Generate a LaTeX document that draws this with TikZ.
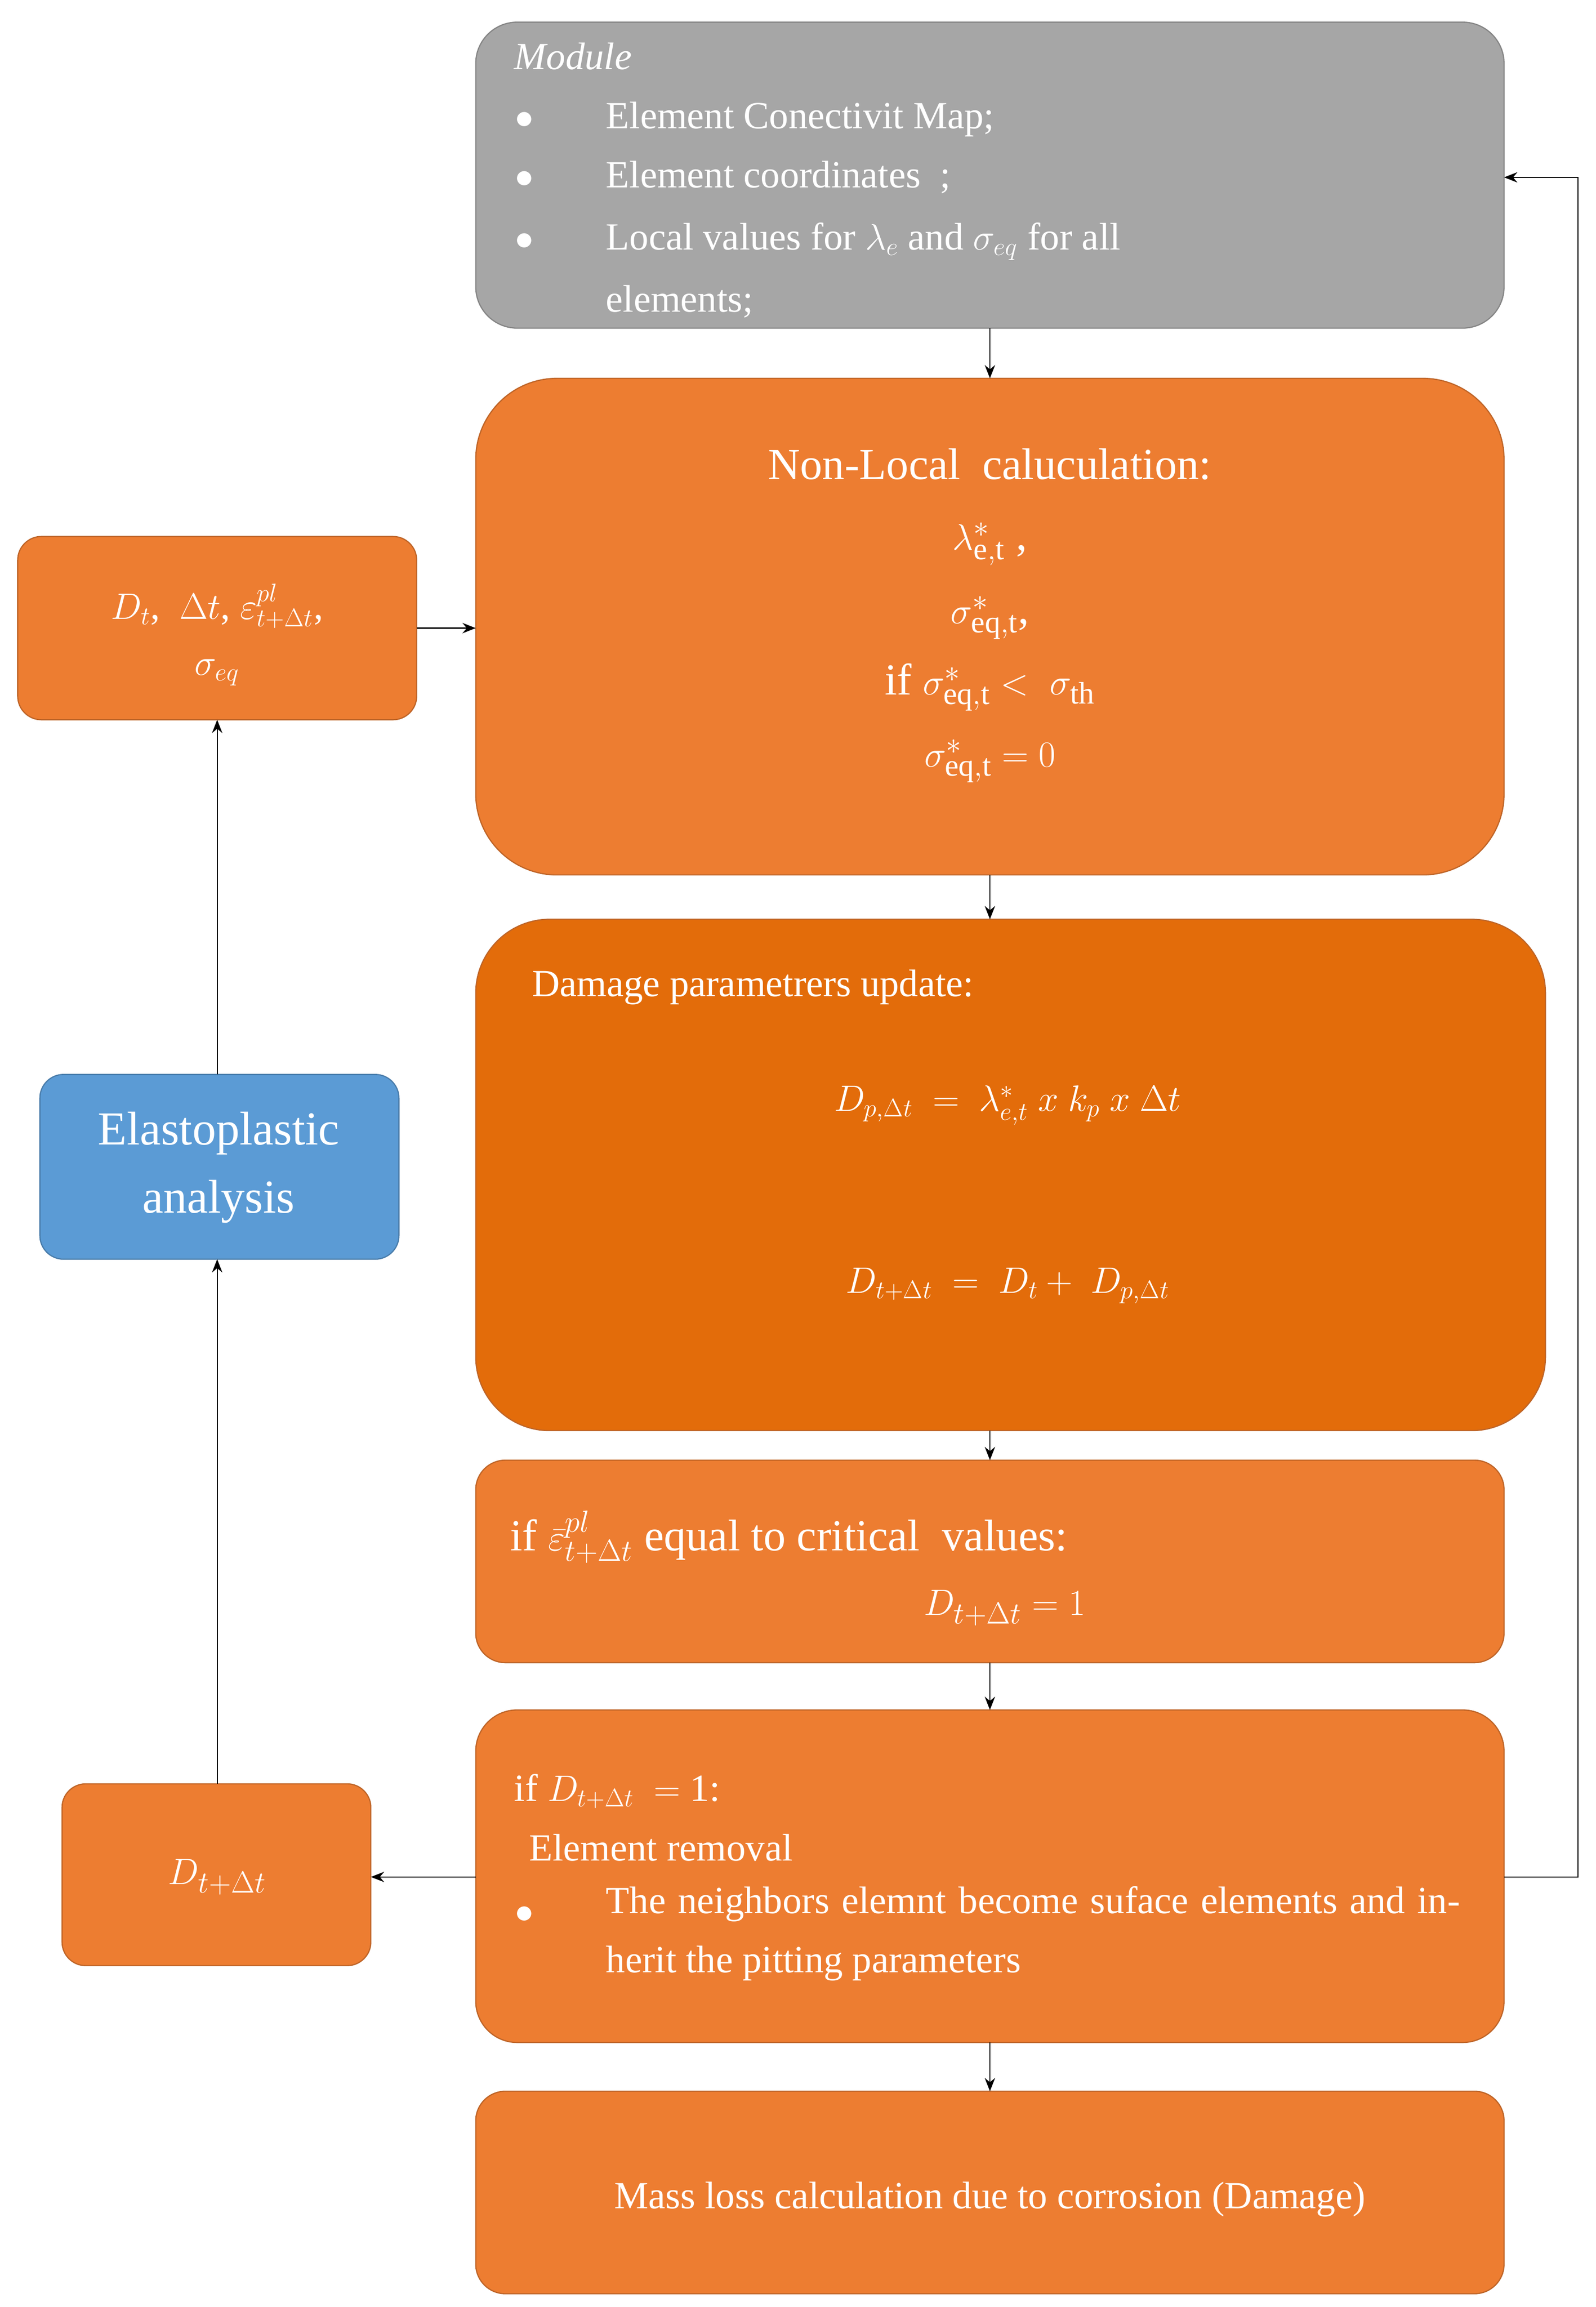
\documentclass[tikz,border=0pt]{standalone}
\usepackage{fontspec}
\setmainfont{Liberation Serif}
\usetikzlibrary{arrows.meta}
\definecolor{og}{HTML}{ED7D31}
\definecolor{dog}{HTML}{E36C0A}
\definecolor{gr}{HTML}{A6A6A6}
\definecolor{bl}{HTML}{5B9BD5}
\begin{document}
\begin{tikzpicture}[x=1pt,y=-1pt,
 box/.style={draw=og!80!black,line width=0.8pt},
 txt/.style={text=white,font=\fontsize{26}{40}\selectfont,inner sep=0pt},
 arr/.style={-{Stealth[length=9pt,width=7pt]},line width=0.7pt}]
\useasboundingbox (0,0) rectangle (1080,1561);
% boxes
\filldraw[fill=gr,draw=gr!80!black,line width=0.8pt,rounded corners=28pt] (322,15) rectangle (1018,222);
\node (mod) at (670,118) {}; 
\coordinate (modt) at (670,222);
\coordinate (modr) at (1018,120);
\filldraw[box,fill=og,rounded corners=55pt] (322,256) rectangle (1018,592);
\coordinate (nlt) at (670,256); \coordinate (nlb) at (670,592); \coordinate (nll) at (322,425);
\filldraw[box,fill=dog,rounded corners=50pt] (322,622) rectangle (1046,968);
\coordinate (dmt) at (670,622); \coordinate (dmb) at (670,968);
\filldraw[box,fill=og,rounded corners=20pt] (322,988) rectangle (1018,1125);
\coordinate (crt) at (670,988); \coordinate (crb) at (670,1125);
\filldraw[box,fill=og,rounded corners=28pt] (322,1157) rectangle (1018,1382);
\coordinate (rmt) at (670,1157); \coordinate (rmb) at (670,1382);
\coordinate (rml) at (322,1270); \coordinate (rmr) at (1018,1270);
\filldraw[box,fill=og,rounded corners=20pt] (322,1415) rectangle (1018,1552);
\coordinate (mlt) at (670,1415);
\filldraw[box,fill=og,rounded corners=16pt] (12,363) rectangle (282,487);
\coordinate (lbr) at (282,425); \coordinate (lbb) at (147,487);
\filldraw[draw=bl!80!black,line width=0.8pt,fill=bl,rounded corners=16pt] (27,727) rectangle (270,852);
\coordinate (elt) at (147,727); \coordinate (elb) at (147,852);
\filldraw[box,fill=og,rounded corners=16pt] (42,1207) rectangle (251,1330);
\coordinate (dbr) at (251,1270); \coordinate (dbt) at (147,1207);
% texts module
\node[txt,anchor=west,font=\fontsize{26}{40}\itshape] (t0) at (348,38) {Module};
\foreach \y/\t [count=\i] in {78/{Element Conectivit Map;},118/{Element coordinates\ \ ;},160/{Local values for $\lambda_e$ and $\sigma_{eq}$ for all}} {
 \node[txt,anchor=base] (b\i) at (355,\y+9) {$\bullet$};
 \node[txt,anchor=base west] (m\i) at (410,\y+9) {\t};}
\node[txt,anchor=base west] (m4) at (410,211) {elements;};
% non-local
\node[txt,font=\fontsize{30}{40}\selectfont] (n1) at (670,314) {Non-Local\ \ caluculation:};
\node[txt,font=\fontsize{30}{40}\selectfont] (n2) at (670,368) {$\lambda^*_{\mathrm{e,t}}$ ,};
\node[txt,font=\fontsize{30}{40}\selectfont] (n3) at (670,418) {$\sigma^*_{\mathrm{eq,t}}$,};
\node[txt,font=\fontsize{30}{40}\selectfont] (n4) at (670,465) {if $\sigma^*_{\mathrm{eq,t}} <\ \sigma_{\mathrm{th}}$};
\node[txt,font=\fontsize{30}{40}\selectfont] (n5) at (670,515) {$\sigma^*_{\mathrm{eq,t}} = 0$};
% damage
\node[txt,anchor=west] (d1) at (360,668) {Damage parametrers update:};
\node[txt] (d2) at (682,748) {$D_{p,\Delta t}\ =\ \lambda^*_{e,t}\ x\ k_p\ x\ \Delta t$};
\node[txt] (d3) at (682,870) {$D_{t+\Delta t}\ =\ D_t +\ D_{p,\Delta t}$};
% critical
\node[txt,anchor=west,font=\fontsize{30}{40}\selectfont] (c1) at (345,1040) {if $\bar\varepsilon^{pl}_{t+\Delta t}$ equal to critical\ \ values:};
\node[txt,font=\fontsize{30}{40}\selectfont] (c2) at (680,1088) {$D_{t+\Delta t} = 1$};
% removal
\node[txt,anchor=west] (r1) at (348,1212) {if $D_{t+\Delta t}\ =\ $1:};
\node[txt,anchor=west] (r2) at (358,1250) {Element removal};
\node[txt,anchor=base] (r3) at (355,1301) {$\bullet$};
\node[txt,anchor=north west,text width=578pt,align=justify] (r4) at (410,1276) {The neighbors elemnt become suface elements and inherit the pitting parameters};
% mass
\node[txt] (ml) at (670,1488) {Mass loss calculation due to corrosion (Damage)};
% left
\node[txt] (l1) at (147,410) {$D_t$,\ \ $\Delta t$, $\varepsilon^{pl}_{t+\Delta t}$,};
\node[txt] (l2) at (147,455) {$\sigma_{eq}$};
\node[txt,font=\fontsize{32}{46}\selectfont,align=center] (el) at (148,790) {Elastoplastic\\analysis};
\node[txt,font=\fontsize{30}{40}\selectfont] (dd) at (147,1270) {$D_{t+\Delta t}$};
% arrows
\draw[arr] (modt) -- (nlt);
\draw[arr] (nlb) -- (dmt);
\draw[arr] (dmb) -- (crt);
\draw[arr] (crb) -- (rmt);
\draw[arr] (rmb) -- (mlt);
\draw[arr] (lbr) -- (nll);
\draw[arr] (rml) -- (dbr);
\draw[arr] (dbt) -- (elb);
\draw[arr] (elt) -- (lbb);
\draw[arr] (rmr) -- (1068,1270) -- (1068,120) -- (modr);
\end{tikzpicture}
\end{document}
